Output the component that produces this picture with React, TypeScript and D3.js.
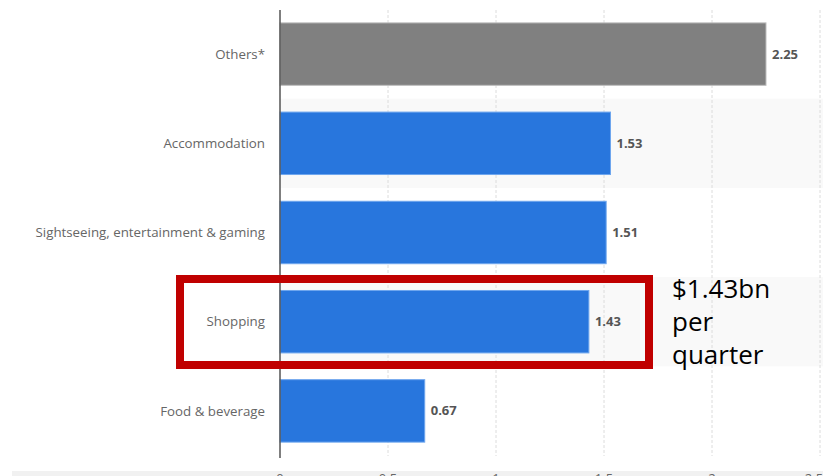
import React from "react";
import * as d3 from "d3";

const categories = ["Others*", "Accommodation", "Sightseeing, entertainment & gaming", "Shopping", "Food & beverage"];
const values = [2.25, 1.53, 1.51, 1.43, 0.67];
const barColors = ["#808080", "#2876dd", "#2876dd", "#2876dd", "#2876dd"];
const xTicks = [0, 0.5, 1, 1.5, 2, 2.5];
const tickLabels = ["0", "0.5", "1", "1.5", "2", "2.5"];
const highlight = "Shopping";
const annotationLines = ["$1.43bn", "per", "quarter"];

const W = 823;
const H = 476;
const FONT = "'Open Sans', 'Noto Sans', sans-serif";

export default function App() {
  const x = d3.scaleLinear().domain([0, 2.5]).range([280, 820]);
  const y = d3.scaleBand<string>().domain(categories).range([9.5, 455.5]).paddingInner(0.3).paddingOuter(0.15);
  const rows = d3.scaleBand<string>().domain(categories).range([9.5, 455.5]).padding(0);

  return (
    <svg width={W} height={H} style={{ position: "absolute", left: 0, top: 0, background: "#fff" }} fontFamily={FONT}>
      {/* alternating stripes */}
      {categories.map((c, i) =>
        i % 2 === 1 ? (
          <rect key={"s" + c} x={x(0)} y={rows(c)!} width={W - x(0)} height={rows.bandwidth()} fill="#f9f9f9" />
        ) : null
      )}
      {/* gridlines */}
      {xTicks.slice(1).map((t) => (
        <line key={"g" + t} x1={x(t)} x2={x(t)} y1={10} y2={456} stroke="#dcdcdc" strokeWidth={1} strokeDasharray="3,2" />
      ))}
      {/* bars */}
      {categories.map((c, i) => (
        <rect
          key={"b" + c}
          x={x(0)}
          y={y(c)!}
          width={x(values[i]) - x(0)}
          height={y.bandwidth()}
          fill={barColors[i]}
          stroke={i === 0 ? "#bdbdbd" : "#6ea6ee"}
          strokeWidth={1}
        />
      ))}
      {/* axis line */}
      <line x1={x(0)} x2={x(0)} y1={10} y2={458} stroke="#555" strokeWidth={1.5} />
      {/* category labels */}
      {categories.map((c) => (
        <text
          key={"l" + c}
          x={265}
          y={y(c)! + y.bandwidth() / 2}
          dy="0.35em"
          textAnchor="end"
          fontSize={13.3}
          fill="#666"
        >
          {c}
        </text>
      ))}
      {/* value labels */}
      {categories.map((c, i) => (
        <text
          key={"v" + c}
          x={x(values[i]) + 6}
          y={y(c)! + y.bandwidth() / 2}
          dy="0.35em"
          fontSize={13}
          fontWeight={700}
          fill="#555"
        >
          {values[i].toFixed(2)}
        </text>
      ))}
      {/* bottom shade */}
      <rect x={12} y={471} width={W - 12} height={5} fill="#f1f1f1" />
      {/* tick labels */}
      {xTicks.map((t, i) => (
        <text
          key={"t" + t}
          x={i === xTicks.length - 1 ? x(t) - 6 : x(t)}
          y={483}
          textAnchor="middle"
          fontSize={13}
          fill="#666"
        >
          {tickLabels[i]}
        </text>
      ))}
      {/* highlight box */}
      <rect x={180} y={279} width={469} height={86} fill="none" stroke="#c00000" strokeWidth={8} />
      {/* annotation */}
      {annotationLines.map((s, i) => (
        <text key={"a" + i} x={672} y={298 + i * 33} fontSize={26} fill="#000" fontFamily="'Open Sans', sans-serif">
          {s}
        </text>
      ))}
    </svg>
  );
}
